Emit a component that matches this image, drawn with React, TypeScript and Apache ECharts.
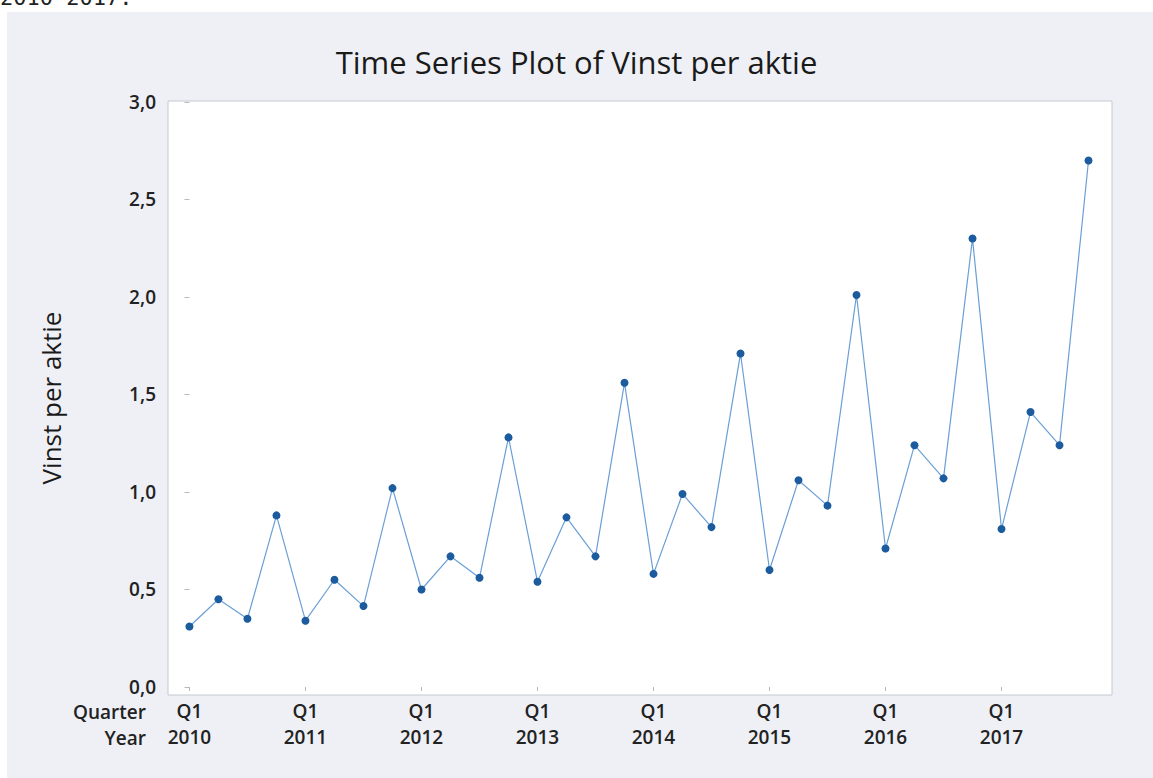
import React, { useEffect, useRef } from "react";
import * as echarts from "echarts";

const years = ["2010", "2011", "2012", "2013", "2014", "2015", "2016", "2017"];
const quarters = ["Q1", "Q2", "Q3", "Q4"];
const values = [
  0.31, 0.45, 0.35, 0.88,
  0.34, 0.55, 0.415, 1.02,
  0.5, 0.67, 0.56, 1.28,
  0.54, 0.87, 0.67, 1.56,
  0.58, 0.99, 0.82, 1.71,
  0.6, 1.06, 0.93, 2.01,
  0.71, 1.24, 1.07, 2.3,
  0.81, 1.41, 1.24, 2.7,
];
const yTicks = [0, 0.5, 1, 1.5, 2, 2.5, 3];
const xTickIdx = [0, 4, 8, 12, 16, 20, 24, 28];

const FONT = "'Open Sans', 'Noto Sans', sans-serif";

export default function App() {
  const ref = useRef<HTMLDivElement>(null);
  useEffect(() => {
    document.body.style.margin = "0";
    const chart = echarts.init(ref.current!, null, { renderer: "svg" });
    const data = values.map((v, i) => [i, v]);
    chart.setOption({
      animation: false,
      backgroundColor: "#eef0f6",
      title: {
        text: "Time Series Plot of Vinst per aktie",
        left: "center",
        top: 41,
        textStyle: { fontFamily: FONT, fontSize: 31, fontWeight: 500, color: "#1a1a1a" },
      },
      grid: {
        left: 168,
        right: 41,
        top: 101,
        bottom: 83,
        show: true,
        backgroundColor: "#ffffff",
        borderColor: "#c6c8d0",
        borderWidth: 1,
      },
      xAxis: {
        type: "value",
        min: -0.74,
        max: 31.81,
        axisLine: { show: false },
        splitLine: { show: false },
        axisTick: {
          show: true,
          length: 4,
          customValues: xTickIdx,
          lineStyle: { color: "#b8bac2" },
        },
        axisLabel: {
          customValues: xTickIdx,
          margin: 3,
          fontFamily: FONT,
          fontSize: 19,
          fontWeight: 600,
          color: "#222",
          lineHeight: 26,
          formatter: (v: number) => {
            const i = Math.round(v);
            return quarters[i % 4] + "\n" + years[Math.floor(i / 4)];
          },
        },
      },
      yAxis: {
        type: "value",
        min: -0.041,
        max: 3.005,
        name: "Vinst per aktie",
        nameLocation: "middle",
        nameGap: 104,
        nameTextStyle: { fontFamily: FONT, fontSize: 26, fontWeight: 500, color: "#1a1a1a" },
        axisLine: { show: false },
        splitLine: { show: false },
        axisTick: {
          show: true,
          length: 5,
          customValues: yTicks,
          lineStyle: { color: "#b8bac2" },
        },
        axisLabel: {
          customValues: yTicks,
          margin: 12,
          fontFamily: FONT,
          fontSize: 19,
          fontWeight: 600,
          color: "#222",
          formatter: (v: number) => v.toFixed(1).replace(".", ","),
        },
      },
      graphic: [
        { type: "rect", shape: { x: 0, y: 0, width: 1153, height: 12 }, style: { fill: "#ffffff" }, z: 100 },
        { type: "rect", shape: { x: 0, y: 0, width: 7, height: 778 }, style: { fill: "#ffffff" }, z: 100 },
        {
          type: "text",
          x: 0,
          y: -14,
          z: 101,
          style: { text: "2010-2017.", fontFamily: "'DejaVu Sans Mono', monospace", fontSize: 22, fill: "#222" },
        },
        {
          type: "text",
          x: 146,
          y: 712,
          style: {
            text: "Quarter",
            fontFamily: FONT,
            fontSize: 19,
            fontWeight: 600,
            fill: "#222",
            textAlign: "right",
            textVerticalAlign: "middle",
          },
        },
        {
          type: "text",
          x: 146,
          y: 738,
          style: {
            text: "Year",
            fontFamily: FONT,
            fontSize: 19,
            fontWeight: 600,
            fill: "#222",
            textAlign: "right",
            textVerticalAlign: "middle",
          },
        },
      ],
      series: [
        {
          type: "line",
          data,
          symbol: "circle",
          symbolSize: 8,
          lineStyle: { color: "#6a9fd6", width: 1.2 },
          itemStyle: { color: "#1b5b9e" },
        },
      ],
    });
    return () => chart.dispose();
  }, []);
  return <div ref={ref} style={{ width: 1153, height: 778 }} />;
}
